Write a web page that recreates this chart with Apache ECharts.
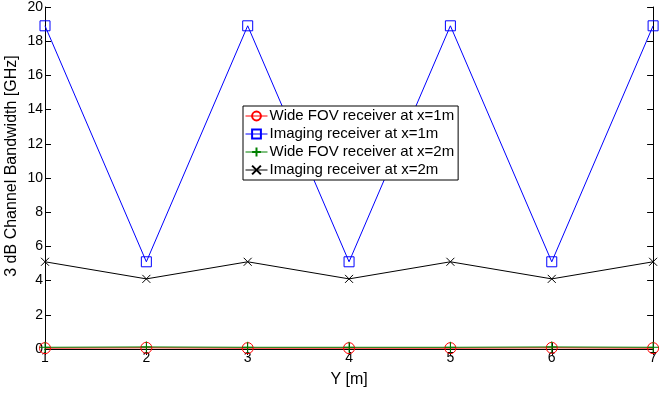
<!DOCTYPE html>
<html>
<head>
<meta charset="utf-8">
<script src="https://cdn.jsdelivr.net/npm/echarts@6/dist/echarts.min.js"></script>
<style>html,body{margin:0;padding:0;background:#fff;}#c{width:660px;height:394px;}</style>
</head>
<body>
<div id="c"></div>
<script>
var xValues = [1, 2, 3, 4, 5, 6, 7];
var yTicks = [0, 2, 4, 6, 8, 10, 12, 14, 16, 18, 20];
var seriesNames = ['Wide FOV receiver at x=1m', 'Imaging receiver at x=1m', 'Wide FOV receiver at x=2m', 'Imaging receiver at x=2m'];
var wideFov1 = [0.05, 0.07, 0.05, 0.05, 0.05, 0.07, 0.05];
var imaging1 = [18.9, 5.1, 18.9, 5.1, 18.9, 5.1, 18.9];
var wideFov2 = [0.1, 0.12, 0.1, 0.1, 0.1, 0.12, 0.1];
var imaging2 = [5.1, 4.1, 5.1, 4.1, 5.1, 4.1, 5.1];
var xTitle = 'Y [m]';
var yTitle = '3 dB Channel Bandwidth [GHz]';

function pairs(vals) { return xValues.map(function (x, i) { return [x, vals[i]]; }); }

var font = 'Liberation Sans, Arial, Helvetica, sans-serif';
var chart = echarts.init(document.getElementById('c'), null, { renderer: 'canvas' });
var axisLine = { show: true, lineStyle: { color: '#000', width: 1 } };
var tick = { show: true, inside: true, length: 6, lineStyle: { color: '#000' } };
var plusPath = 'path://M5,0L5,10M0,5L10,5';
var crossPath = 'path://M0,0L10,10M10,0L0,10';

chart.setOption({
  animation: false,
  backgroundColor: '#fff',
  textStyle: { fontFamily: font },
  grid: { left: 45, right: 5, top: 7, bottom: 45, containLabel: false },
  legend: {
    left: 243, top: 106, orient: 'vertical',
    data: seriesNames,
    backgroundColor: '#fff', borderColor: '#000', borderWidth: 1,
    padding: [2, 4, 2, 2], itemGap: 2, itemWidth: 22, itemHeight: 11,
    lineStyle: { width: 1 },
    textStyle: { fontSize: 15, color: '#000', fontFamily: font, padding: [0, 0, 0, -3], lineHeight: 16 }
  },
  graphic: [{
    type: 'text', x: 4, y: 166, rotation: Math.PI / 2,
    style: { text: yTitle, fontSize: 16, fontFamily: font, fill: '#000', textAlign: 'center', textVerticalAlign: 'top' }
  }],
  xAxis: [{
    type: 'value', min: 1, max: 7, interval: 1, position: 'bottom',
    name: xTitle, nameLocation: 'middle', nameGap: 23,
    nameTextStyle: { fontSize: 16, color: '#000', fontFamily: font },
    axisLine: axisLine, axisTick: tick,
    axisLabel: { color: '#000', fontSize: 14, margin: 2, fontFamily: font },
    splitLine: { show: false }
  }, {
    type: 'value', min: 1, max: 7, interval: 1, position: 'top',
    axisLine: axisLine, axisTick: tick, axisLabel: { show: false }, splitLine: { show: false }
  }],
  yAxis: [{
    type: 'value', min: yTicks[0], max: yTicks[yTicks.length - 1], interval: 2, position: 'left',
    axisLine: axisLine, axisTick: tick,
    axisLabel: { color: '#000', fontSize: 14, margin: 2, fontFamily: font },
    splitLine: { show: false }
  }, {
    type: 'value', min: yTicks[0], max: yTicks[yTicks.length - 1], interval: 2, position: 'right',
    axisLine: axisLine, axisTick: tick, axisLabel: { show: false }, splitLine: { show: false }
  }],
  series: [
    {
      name: seriesNames[0], type: 'line', data: pairs(wideFov1),
      symbol: 'circle', symbolSize: 11, showSymbol: true,
      lineStyle: { color: '#ff0000', width: 1 },
      itemStyle: { color: 'rgba(0,0,0,0)', borderColor: '#ff0000', borderWidth: 1 }
    },
    {
      name: seriesNames[1], type: 'line', data: pairs(imaging1),
      symbol: 'rect', symbolSize: 10,
      lineStyle: { color: '#0000ff', width: 1 },
      itemStyle: { color: 'rgba(0,0,0,0)', borderColor: '#0000ff', borderWidth: 1 }
    },
    {
      name: seriesNames[2], type: 'line', data: pairs(wideFov2),
      symbol: plusPath, symbolSize: 11,
      lineStyle: { color: '#008000', width: 1 },
      itemStyle: { color: 'rgba(0,0,0,0)', borderColor: '#008000', borderWidth: 1 }
    },
    {
      name: seriesNames[3], type: 'line', data: pairs(imaging2),
      symbol: crossPath, symbolSize: 8,
      lineStyle: { color: '#000000', width: 1 },
      itemStyle: { color: 'rgba(0,0,0,0)', borderColor: '#000000', borderWidth: 1 }
    }
  ]
});
</script>
</body>
</html>
